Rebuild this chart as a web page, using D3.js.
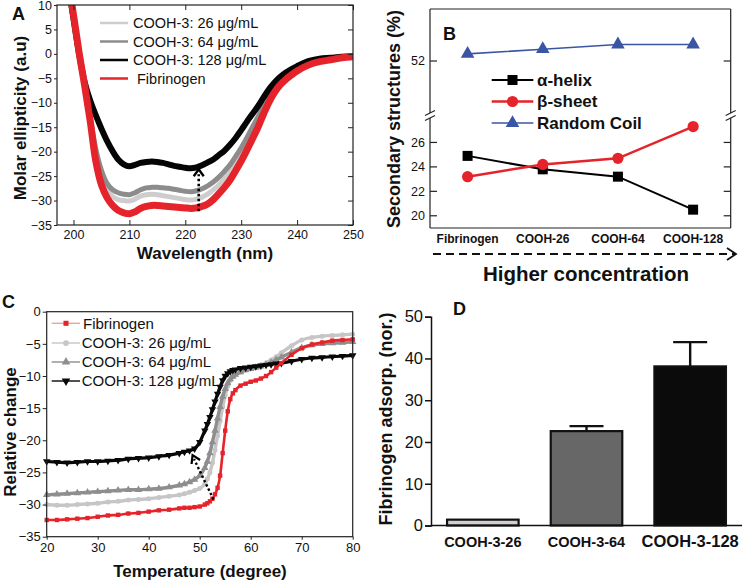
<!DOCTYPE html>
<html><head><meta charset="utf-8">
<script src="https://cdn.jsdelivr.net/npm/d3@7"></script>
<style>
body{margin:0;background:#fff}
svg{display:block}
text{font-family:"Liberation Sans",Arial,Helvetica,sans-serif}
</style>
</head><body>
<svg id="c" width="747" height="581"></svg>
<script>
// ---------- Panel A data (CD spectra) ----------
const wavelengths = [199,200,201,202,203,204,205,206,207,208,209,210,211,212,213,214,215,216,217,218,219,220,221,222,223,224,225,226,227,228,229,230,231,232,233,234,235,236,237,238,239,240,242,244,246,248,250];
const cdCooh26 = [15,8,0.3,-6.4,-13.4,-20.5,-25,-27.8,-29.2,-29.8, -30,-30.1,-29.7,-29.1,-28.8,-28.7,-28.8,-29,-29.2,-29.4, -29.6,-29.8,-29.9,-29.7,-29.3,-28.7,-27.8,-26.8,-25.4,-24, -22.2,-20.2,-18,-15.8,-13.6,-11.4,-9.4,-7.6,-6.2,-5, -4.1,-3.3, -2.1,-1.4,-1,-0.7,-0.6];
const cdCooh64 = [15,8,0.3,-6.3,-13,-19.5,-23.8,-26.5,-27.8,-28.4, -28.7,-28.8,-28.4,-27.8,-27.4,-27.3,-27.3,-27.4,-27.5,-27.7, -27.9,-28.1,-28.2,-28,-27.6,-27,-26.2,-25.2,-24,-22.7, -21,-19.2,-17.2,-15,-12.9,-10.8,-8.9,-7.2,-5.9,-4.8, -3.9,-3.2, -2,-1.3,-0.9,-0.7,-0.5];
const cdCooh128 = [14.5,7.2,0,-5.8,-9.6,-12.6,-15.3,-17.8,-19.9,-21.6, -22.6,-23,-22.7,-22.3,-22.1,-22,-22.1,-22.3,-22.6,-22.9, -23.1,-23.3,-23.4,-23.2,-22.8,-22.2,-21.6,-20.7,-19.8,-18.6, -17.2,-15.6,-13.9,-12.3,-10.7,-8.9,-7.2,-5.8,-4.7,-3.8, -3.1,-2.5, -1.5,-1.0,-0.8,-0.6,-0.5];
const cdFibrinogen = [15,8,0.3,-6.5,-13.8,-22,-26.8,-29.4,-31,-32, -32.5,-32.7,-32.3,-31.6,-31.2,-31,-31,-31.1,-31.2,-31.3, -31.4,-31.5,-31.6,-31.5,-31.2,-30.7,-29.8,-28.6,-27.3,-25.8, -23.9,-21.9,-19.7,-17.4,-15,-12.3,-9.8,-7.8,-6.3,-5.2, -4.3,-3.5, -2.3,-1.6,-1.2,-0.8,-0.6];
const legendA = ["COOH-3: 26 \u03bcg/mL","COOH-3: 64 \u03bcg/mL","COOH-3: 128 \u03bcg/mL","Fibrinogen"];
const ticksAx = [200,210,220,230,240,250];
const ticksAy = [-35,-30,-25,-20,-15,-10,-5,0,5,10];

// ---------- Panel B data (secondary structures) ----------
const catsB = ["Fibrinogen","COOH-26","COOH-64","COOH-128"];
const alphaHelix = [24.9,23.8,23.2,20.5];
const betaSheet = [23.2,24.2,24.7,27.3];
const randomCoil = [52.6,53.0,53.4,53.4];
const legendB = ["\u03b1-helix","\u03b2-sheet","Random Coil"];
const ticksBlow = [20,22,24,26];
const ticksBup = [52];

// ---------- Panel C data (thermal denaturation) ----------
const temps = [20,22,24,26,28,30,32,34,36,38,40,42,44,46,47,48,49,50,51,51.5,52,52.5,53,53.5,54,54.5,55,55.5,56,56.5,57,58,59,60,61,62,63,64,65,66,68,70,72,74,76,78,80];
const tFibrinogen = [-32.4,-32.4,-32.3,-32.2,-32.1,-31.9,-31.7,-31.6,-31.4,-31.3,-31.1,-30.9,-30.8,-30.6, -30.5,-30.5,-30.4,-30.3,-30.0, -29.8,-29.5,-29.1,-28.4,-27.4,-25.5,-22,-18.5,-15.5,-13.6,-12.7,-12.2, -11.5,-11.2,-10.9,-10.7,-10.4,-10,-9.4,-8.7,-8, -6.7,-5.7,-5.1,-4.8,-4.5,-4.4,-4.3];
const tCooh26 = [-30,-30.1,-30.1,-30,-29.9,-29.8,-29.6,-29.5,-29.3,-29.2,-29.1,-28.9,-28.7,-28.5, -28.3,-28.1,-27.8,-27.5,-26.8, -26,-25,-23.5,-21.5,-19.3,-17,-14.8,-13,-11.6,-10.7,-10.1,-9.8, -9.4,-9.1,-8.9,-8.6,-8.3,-8,-7.5,-7,-6.4, -5.3,-4.4,-4,-3.8,-3.7,-3.6,-3.5];
const tCooh64 = [-28.5,-28.4,-28.3,-28.2,-28.1,-28,-27.9,-27.8,-27.7,-27.7,-27.6,-27.5,-27.3,-27, -26.8,-26.5,-26.1,-25.5,-24.3, -23.3,-22,-20.3,-18.5,-16.6,-14.8,-13.2,-12,-11.1,-10.5,-10.1,-9.8, -9.4,-9.1,-8.9,-8.7,-8.5,-8.2,-7.9,-7.5,-7.1, -6.3,-5.6,-5.2,-5,-4.9,-4.8,-4.7];
const tCooh128 = [-23.3,-23.4,-23.5,-23.4,-23.3,-23.3,-23.2,-23.1,-22.9,-22.8,-22.7,-22.5,-22.3,-22, -21.8,-21.6,-21.3,-20.3,-18.5, -17.5,-16.4,-15.2,-14,-12.8,-11.7,-10.7,-10,-9.6,-9.3,-9.1,-9.0, -8.8,-8.7,-8.6,-8.5,-8.4,-8.3,-8.2,-8.1,-8.0, -7.7,-7.4,-7.2,-7.1,-7,-6.9,-6.8];
const legendC = ["Fibrinogen","COOH-3: 26 \u03bcg/mL","COOH-3: 64 \u03bcg/mL","COOH-3: 128 \u03bcg/mL"];
const ticksCx = [20,30,40,50,60,70,80];
const ticksCy = [-35,-30,-25,-20,-15,-10,-5,0];

// ---------- Panel D data (adsorption) ----------
const catsD = ["COOH-3-26","COOH-3-64","COOH-3-128"];
const adsorp = [1.4,22.6,38.1];
const adsorpErr = [0,1.2,5.8];
const ticksDy = [0,10,20,30,40,50];

// ---------- styles ----------
const FONT = '"Liberation Sans",Arial,Helvetica,sans-serif';
const RED = "#e5232a", BLUE = "#3b55a5";
const svg = d3.select("#c");
svg.append("rect").attr("width",747).attr("height",581).attr("fill","#fff");
const defs = svg.append("defs");

function styleAxis(g, size){
  g.select(".domain").remove();
  g.selectAll("text").attr("font-family",FONT).attr("font-size",size).attr("fill","#111");
  g.selectAll("line").attr("stroke","#222").attr("stroke-width",1);
}
function txt(x,y,s,opts){
  const t = svg.append("text").attr("x",x).attr("y",y).text(s)
    .attr("font-family",FONT).attr("font-size",opts.size||12).attr("fill",opts.fill||"#111");
  if(opts.bold) t.attr("font-weight","bold");
  if(opts.anchor) t.attr("text-anchor",opts.anchor);
  if(opts.rot) t.attr("transform",`rotate(-90,${x},${y})`);
  return t;
}

// =============== PANEL A ===============
(function(){
  const L=57,R=353,T=5,B=225;
  const x = d3.scaleLinear().domain([197.05,250]).range([L,R]);
  const y = d3.scaleLinear().domain([-35,10]).range([B,T]);
  defs.append("clipPath").attr("id","clipA").append("rect").attr("x",L).attr("y",T).attr("width",R-L).attr("height",B-T);
  const g = svg.append("g");
  const series = [
    {v:cdCooh26,c:"#cdcdcd",w:5},
    {v:cdCooh64,c:"#8c8c8c",w:5},
    {v:cdCooh128,c:"#050505",w:6},
    {v:cdFibrinogen,c:RED,w:7}
  ];
  const line = d3.line().x((d,i)=>x(wavelengths[i])).y(d=>y(d)).curve(d3.curveCatmullRom);
  const cg = g.append("g").attr("clip-path","url(#clipA)");
  series.forEach(s=>{
    cg.append("path").attr("d",line(s.v)).attr("fill","none").attr("stroke",s.c)
      .attr("stroke-width",s.w).attr("stroke-linejoin","round");
  });
  const ax = x(222.4);
  g.append("line").attr("x1",ax).attr("x2",ax).attr("y1",y(-32.2)).attr("y2",y(-24.6))
    .attr("stroke","#000").attr("stroke-width",2.6).attr("stroke-dasharray","2.6,2.4");
  g.append("polyline").attr("points",`${ax-5},${y(-23.6)+7} ${ax},${y(-23.6)} ${ax+5},${y(-23.6)+7}`)
    .attr("fill","none").attr("stroke","#000").attr("stroke-width",2.4);
  g.append("rect").attr("x",L).attr("y",T).attr("width",R-L).attr("height",B-T)
    .attr("fill","none").attr("stroke","#222").attr("stroke-width",1.2);
  g.append("g").attr("transform",`translate(${L},0)`)
    .call(d3.axisLeft(y).tickValues(ticksAy).tickSize(3).tickPadding(2)).call(a=>styleAxis(a,12.5));
  g.append("g").attr("transform",`translate(${R},0)`)
    .call(d3.axisRight(y).tickValues(ticksAy).tickSize(-5).tickFormat("")).call(a=>styleAxis(a,12.5));
  g.append("g").attr("transform",`translate(0,${B})`)
    .call(d3.axisBottom(x).tickValues(ticksAx).tickSize(-5).tickPadding(5.5)).call(a=>styleAxis(a,12.5));
  g.append("g").attr("transform",`translate(0,${T})`)
    .call(d3.axisTop(x).tickValues(ticksAx).tickSize(-5).tickFormat("")).call(a=>styleAxis(a,12.5));
  const lcol = ["#cdcdcd","#8c8c8c","#050505",RED];
  legendA.forEach((s,i)=>{
    const yy = 23 + i*18.5;
    g.append("line").attr("x1",100).attr("x2",128).attr("y1",yy).attr("y2",yy).attr("stroke",lcol[i]).attr("stroke-width",2.5);
    txt(i===3?137:133, yy+5, s, {size:14.5});
  });
  txt(12,20,"A",{size:18,bold:true});
  txt(26,118,"Molar ellipticity (a.u)",{size:17,bold:true,anchor:"middle",rot:true});
  txt(205,259,"Wavelength (nm)",{size:17,bold:true,anchor:"middle"});
})();

// =============== PANEL B ===============
(function(){
  const L=430,R=730.7,T=9,B=228,BR1=113,BR2=118;
  const x = d3.scalePoint().domain(catsB).range([L,R]).padding(0.5);
  const yLow = d3.scaleLinear().domain([19,28]).range([B,BR2]);
  const yUp = d3.scaleLinear().domain([47.6,56.4]).range([BR1,T]);
  const g = svg.append("g");
  const st = s=>s.attr("stroke","#222").attr("stroke-width",1.2);
  st(g.append("line").attr("x1",L).attr("x2",R).attr("y1",T).attr("y2",T));
  st(g.append("line").attr("x1",L).attr("x2",R).attr("y1",B).attr("y2",B));
  [L,R].forEach(xx=>{
    st(g.append("line").attr("x1",xx).attr("x2",xx).attr("y1",T).attr("y2",BR1));
    st(g.append("line").attr("x1",xx).attr("x2",xx).attr("y1",BR2).attr("y2",B));
    [BR1,BR2].forEach(yy=>{
      g.append("line").attr("x1",xx-5).attr("x2",xx+5).attr("y1",yy+2.5).attr("y2",yy-2.5)
        .attr("stroke","#222").attr("stroke-width",1.2);
    });
  });
  const tks = ticksBup.map(v=>({v,y:yUp(v)})).concat(ticksBlow.map(v=>({v,y:yLow(v)})));
  tks.forEach(t=>{
    st(g.append("line").attr("x1",L).attr("x2",L+7).attr("y1",t.y).attr("y2",t.y));
    st(g.append("line").attr("x1",R-7).attr("x2",R).attr("y1",t.y).attr("y2",t.y));
    txt(425,t.y,String(t.v),{size:12.5,anchor:"end"}).attr("dy","0.35em");
  });
  catsB.forEach(c=>txt(x(c),243,c,{size:12,bold:true,anchor:"middle"}));
  const lineLow = d3.line().x((d,i)=>x(catsB[i])).y(d=>yLow(d));
  const lineUp = d3.line().x((d,i)=>x(catsB[i])).y(d=>yUp(d));
  g.append("path").attr("d",lineUp(randomCoil)).attr("fill","none").attr("stroke",BLUE).attr("stroke-width",1.6);
  g.append("path").attr("d",lineLow(alphaHelix)).attr("fill","none").attr("stroke","#000").attr("stroke-width",2);
  g.append("path").attr("d",lineLow(betaSheet)).attr("fill","none").attr("stroke",RED).attr("stroke-width",2.5);
  alphaHelix.forEach((v,i)=>g.append("rect").attr("x",x(catsB[i])-5).attr("y",yLow(v)-5).attr("width",10).attr("height",10).attr("fill","#000"));
  betaSheet.forEach((v,i)=>g.append("circle").attr("cx",x(catsB[i])).attr("cy",yLow(v)).attr("r",5.6).attr("fill",RED));
  const tri = d3.symbol().type(d3.symbolTriangle).size(80);
  randomCoil.forEach((v,i)=>g.append("path").attr("d",tri()).attr("transform",`translate(${x(catsB[i])},${yUp(v)})`).attr("fill",BLUE));
  const ly=[80,101.5,123];
  const lc=["#000",RED,BLUE], lw=[2,2.5,1.6];
  legendB.forEach((s,i)=>{
    g.append("line").attr("x1",491.7).attr("x2",533.3).attr("y1",ly[i]).attr("y2",ly[i]).attr("stroke",lc[i]).attr("stroke-width",lw[i]);
    if(i===0) g.append("rect").attr("x",507.5).attr("y",ly[i]-5).attr("width",10).attr("height",10).attr("fill","#000");
    if(i===1) g.append("circle").attr("cx",512.5).attr("cy",ly[i]).attr("r",5.6).attr("fill",RED);
    if(i===2) g.append("path").attr("d",tri()).attr("transform",`translate(512.5,${ly[i]})`).attr("fill",BLUE);
    txt(537,ly[i],s,{size:17,bold:true}).attr("dy","0.35em");
  });
  txt(443,40,"B",{size:18,bold:true});
  txt(399.5,119,"Secondary structures (%)",{size:18,bold:true,anchor:"middle",rot:true});
  g.append("line").attr("x1",433).attr("x2",735).attr("y1",254).attr("y2",254)
    .attr("stroke","#111").attr("stroke-width",2).attr("stroke-dasharray","8,5");
  g.append("polyline").attr("points","727,248 736,254 727,260").attr("fill","none").attr("stroke","#111").attr("stroke-width",1.8);
  txt(586,281,"Higher concentration",{size:20.5,bold:true,anchor:"middle"});
})();

// =============== PANEL C ===============
(function(){
  const L=46.7,R=352.7,T=311.7,B=536.7;
  const x = d3.scaleLinear().domain([20,80]).range([L,R]);
  const y = d3.scaleLinear().domain([-35,0]).range([B,T]);
  const g = svg.append("g");
  const series = [
    {v:tCooh26,c:"#c6c6c6",m:"circle",w:3.4},
    {v:tCooh64,c:"#8e8e8e",m:"up",w:3.4},
    {v:tCooh128,c:"#080808",m:"down",w:3.2},
    {v:tFibrinogen,c:RED,m:"square",w:2.6}
  ];
  const line = d3.line().x((d,i)=>x(temps[i])).y(d=>y(d)).curve(d3.curveMonotoneX);
  function marker(gg,m,c,cx,cy,s){
    s = s||1;
    if(m==="circle") gg.append("circle").attr("cx",cx).attr("cy",cy).attr("r",2.5*s).attr("fill",c);
    else if(m==="square") gg.append("rect").attr("x",cx-2.2*s).attr("y",cy-2.2*s).attr("width",4.4*s).attr("height",4.4*s).attr("fill",c);
    else gg.append("path").attr("d",d3.symbol().type(d3.symbolTriangle).size(24*s*s)()).attr("fill",c)
      .attr("transform",`translate(${cx},${cy})${m==="down"?" rotate(180)":""}`);
  }
  series.forEach(s=>{
    g.append("path").attr("d",line(s.v)).attr("fill","none").attr("stroke",s.c).attr("stroke-width",s.w);
    s.v.forEach((d,i)=>marker(g,s.m,s.c,x(temps[i]),y(d)));
  });
  const x0=x(52.7), y0=y(-29.2), x1=x(48.6), y1=y(-22.3);
  g.append("line").attr("x1",x0).attr("y1",y0).attr("x2",x1+1.5).attr("y2",y1+4)
    .attr("stroke","#000").attr("stroke-width",2.4).attr("stroke-dasharray","2.4,2.4");
  const ang = Math.atan2(y1-y0,x1-x0);
  const a1=ang+Math.PI-0.55, a2=ang+Math.PI+0.55, len=9;
  g.append("polyline").attr("points",`${x1+len*Math.cos(a1)},${y1+len*Math.sin(a1)} ${x1},${y1} ${x1+len*Math.cos(a2)},${y1+len*Math.sin(a2)}`)
    .attr("fill","none").attr("stroke","#000").attr("stroke-width",2.2);
  g.append("rect").attr("x",L).attr("y",T).attr("width",R-L).attr("height",B-T)
    .attr("fill","none").attr("stroke","#222").attr("stroke-width",1.2);
  g.append("g").attr("transform",`translate(${L},0)`)
    .call(d3.axisLeft(y).tickValues(ticksCy).tickSize(4).tickPadding(2)).call(a=>styleAxis(a,13));
  g.append("g").attr("transform",`translate(0,${B})`)
    .call(d3.axisBottom(x).tickValues(ticksCx).tickSize(3).tickPadding(3)).call(a=>styleAxis(a,13));
  const ly=[323.3,343,362,381];
  const lc=[RED,"#c6c6c6","#8e8e8e","#080808"], lm=["square","circle","up","down"];
  const lineCol=["#f2a0a0","#c6c6c6","#8e8e8e","#080808"];
  legendC.forEach((s,i)=>{
    g.append("line").attr("x1",51.7).attr("x2",80).attr("y1",ly[i]).attr("y2",ly[i]).attr("stroke",lineCol[i]).attr("stroke-width",1.4);
    marker(g,lm[i],lc[i],66,ly[i],1.15);
    txt(i===0?83:81.7,ly[i]+5.2,s,{size:15});
  });
  txt(2,308,"C",{size:18,bold:true});
  txt(16,432,"Relative change",{size:17,bold:true,anchor:"middle",rot:true});
  txt(200,577,"Temperature (degree)",{size:17,bold:true,anchor:"middle"});
})();

// =============== PANEL D ===============
(function(){
  const L=431,R=742,B=525.5;
  const x = d3.scaleBand().domain(catsD).range([L,R]).paddingInner(0.31).paddingOuter(0.155);
  const y = d3.scaleLinear().domain([0,50]).range([B,316.7]);
  const g = svg.append("g");
  const fills = ["#d0d0d0","#676767","#0b0b0b"];
  adsorp.forEach((v,i)=>{
    const c = catsD[i];
    if(adsorpErr[i]>0){
      const cx = x(c)+x.bandwidth()/2;
      g.append("line").attr("x1",cx).attr("x2",cx).attr("y1",y(v)).attr("y2",y(v+adsorpErr[i])).attr("stroke","#111").attr("stroke-width",2.4);
      g.append("line").attr("x1",cx-17).attr("x2",cx+17).attr("y1",y(v+adsorpErr[i])).attr("y2",y(v+adsorpErr[i])).attr("stroke","#111").attr("stroke-width",2.4);
    }
    g.append("rect").attr("x",x(c)).attr("y",y(v)).attr("width",x.bandwidth()).attr("height",B-y(v))
      .attr("fill",fills[i]).attr("stroke","#111").attr("stroke-width",2.2);
  });
  g.append("line").attr("x1",L).attr("x2",R).attr("y1",B).attr("y2",B).attr("stroke","#111").attr("stroke-width",1.5);
  g.append("g").attr("transform",`translate(${L},0)`)
    .call(d3.axisLeft(y).tickValues(ticksDy).tickSize(6).tickPadding(2))
    .call(a=>{a.select(".domain").attr("stroke","#111").attr("stroke-width",1.5);
      a.selectAll("text").attr("font-family",FONT).attr("font-size",16.5).attr("fill","#111");
      a.selectAll("line").attr("stroke","#111").attr("stroke-width",1.5);});
  const lsz=[14.5,14.5,16.5];
  catsD.forEach((c,i)=>txt(x(c)+x.bandwidth()/2,547,c,{size:lsz[i],bold:true,anchor:"middle"}));
  txt(453,315,"D",{size:18,bold:true});
  txt(391.5,419,"Fibrinogen adsorp. (nor.)",{size:18,bold:true,anchor:"middle",rot:true});
})();
</script>
</body></html>
